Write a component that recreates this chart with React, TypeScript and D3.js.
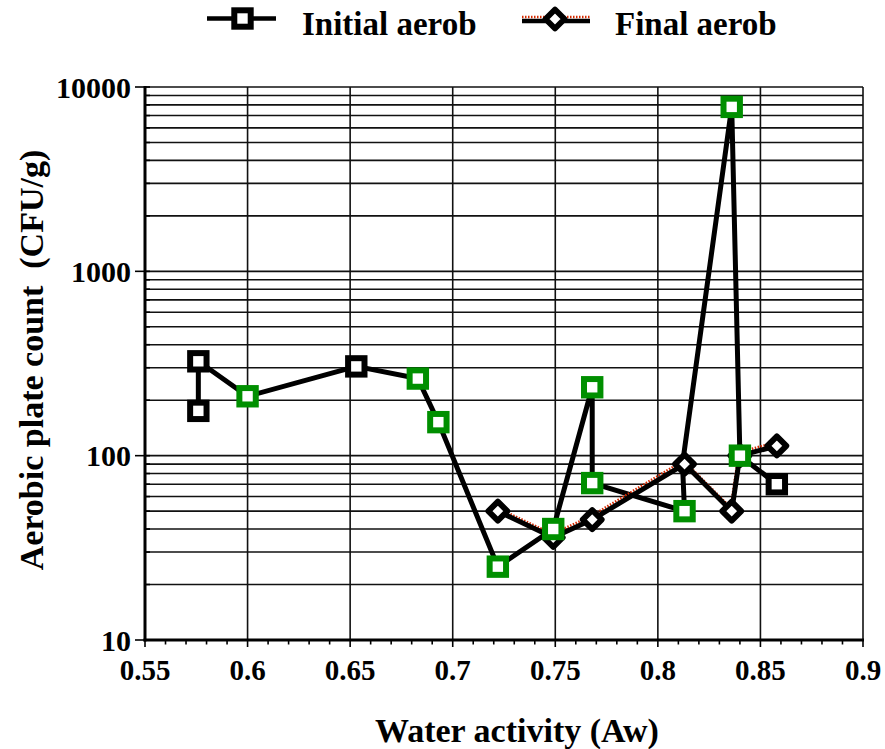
import React from "react";
import * as d3 from "d3";

// Water activity (Aw) readings and aerobic plate counts (CFU/g)
const initialAw = [0.576, 0.576, 0.6, 0.653, 0.683, 0.693, 0.722, 0.749, 0.768, 0.768, 0.813, 0.812, 0.836, 0.84, 0.858];
const initialCount = [175, 325, 210, 305, 262, 152, 25, 40, 235, 71, 50, 90, 7800, 100, 70];
// samples drawn with the green marker
const initialGreen = [2, 4, 5, 6, 7, 8, 9, 10, 12, 13];
// sample whose marker sits beneath a final-count marker
const initialNoMarker = [11];

const finalAw = [0.722, 0.749, 0.768, 0.813, 0.836, 0.84, 0.858];
const finalCount = [50, 36, 45, 90, 50, 100, 113];

const xTicks = [0.55, 0.6, 0.65, 0.7, 0.75, 0.8, 0.85, 0.9];
const xTickLabels = ["0.55", "0.6", "0.65", "0.7", "0.75", "0.8", "0.85", "0.9"];
const yTicks = [10, 100, 1000, 10000];
const yTickLabels = ["10", "100", "1000", "10000"];

const W = 885;
const H = 749;
const left = 145;
const right = 863;
const top = 87;
const bottom = 640;
const FONT = "'Liberation Serif', 'Times New Roman', Times, serif";
const GREEN = "#008f00";

export default function App() {
  const x = d3.scaleLinear().domain([0.55, 0.9]).range([left, right]);
  const y = d3.scaleLog().domain([10, 10000]).range([bottom, top]);

  // grid: every 1..9 multiple of each decade
  const yGrid: number[] = [];
  for (let d = 10; d < 10000; d *= 10) {
    for (let k = 2; k <= 10; k++) yGrid.push(d * k);
  }
  const xMinor = d3.range(0, 36).map((i) => 0.55 + i * 0.01);

  const line = d3
    .line<[number, number]>()
    .x((d) => x(d[0]))
    .y((d) => y(d[1]));

  const initialPts: [number, number][] = initialAw.map((a, i) => [a, initialCount[i]]);
  const finalPts: [number, number][] = finalAw.map((a, i) => [a, finalCount[i]]);

  const square = (cx: number, cy: number, color: string, key: string | number) => (
    <rect key={key} x={cx - 8.2} y={cy - 8.2} width={16.4} height={16.4} fill="#fff" stroke={color} strokeWidth={6} />
  );
  const diamond = (cx: number, cy: number, key: string | number) => (
    <path
      key={key}
      d={`M${cx},${cy - 9.5}L${cx + 9.5},${cy}L${cx},${cy + 9.5}L${cx - 9.5},${cy}Z`}
      fill="#fff"
      stroke="#000"
      strokeWidth={5.8}
      strokeLinejoin="round"
    />
  );

  return (
    <svg width={W} height={H} style={{ position: "absolute", left: 0, top: 0, background: "#fff" }} fontFamily={FONT}>
      <rect x={0} y={0} width={W} height={H} fill="#fff" />

      {/* horizontal grid */}
      {yGrid.map((v) => (
        <line key={"hg" + v} x1={left} x2={right} y1={y(v)} y2={y(v)} stroke="#111" strokeWidth={1.6} />
      ))}
      {/* vertical grid */}
      {xTicks.slice(1).map((v) => (
        <line key={"vg" + v} x1={x(v)} x2={x(v)} y1={top} y2={bottom} stroke="#111" strokeWidth={1.6} />
      ))}

      {/* axes */}
      <line x1={left} x2={left} y1={top - 1} y2={bottom + 1.5} stroke="#000" strokeWidth={3} />
      <line x1={left - 1.5} x2={right + 1} y1={bottom} y2={bottom} stroke="#000" strokeWidth={3} />

      {/* y ticks */}
      {yTicks.map((v, i) => (
        <g key={"yt" + v}>
          <line x1={left - 10} x2={left} y1={y(v)} y2={y(v)} stroke="#000" strokeWidth={1.6} />
          <text x={131} y={y(v)} dy="0.35em" textAnchor="end" fontSize={30} fontWeight="bold">
            {yTickLabels[i]}
          </text>
        </g>
      ))}
      {yGrid.map((v) => (
        <line key={"ymt" + v} x1={left} x2={left + 5} y1={y(v)} y2={y(v)} stroke="#000" strokeWidth={1.6} />
      ))}

      {/* x ticks */}
      {xMinor.map((v, i) => (
        <line
          key={"xmt" + i}
          x1={x(v)}
          x2={x(v)}
          y1={bottom}
          y2={bottom + (i % 5 === 0 ? 7 : 4.5)}
          stroke="#000"
          strokeWidth={1.6}
        />
      ))}
      {xTicks.map((v, i) => (
        <text key={"xt" + v} x={x(v)} y={680} textAnchor="middle" fontSize={29} fontWeight="bold">
          {xTickLabels[i]}
        </text>
      ))}

      {/* series lines */}
      <path d={line(initialPts) || ""} fill="none" stroke="#000" strokeWidth={5} strokeLinejoin="round" />
      <path
        d={line(finalPts) || ""}
        fill="none"
        stroke="#d42a00"
        strokeWidth={2.5}
        strokeDasharray="1.5 1.5"
        transform="translate(-1,-3.5)"
      />
      <path d={line(finalPts) || ""} fill="none" stroke="#000" strokeWidth={5} strokeLinejoin="round" />

      {/* markers */}
      {finalPts.map((p, i) => diamond(x(p[0]), y(p[1]), "fd" + i))}
      {initialPts.map((p, i) =>
        initialNoMarker.includes(i)
          ? null
          : square(x(p[0]), y(p[1]), initialGreen.includes(i) ? GREEN : "#000", "is" + i)
      )}

      {/* legend */}
      <line x1={207} x2={276} y1={18.5} y2={18.5} stroke="#000" strokeWidth={4.5} />
      {square(242.5, 18.5, "#000", "lg1")}
      <text x={302} y={35} fontSize={33} fontWeight="bold">
        Initial aerob
      </text>
      <line x1={522} x2={590} y1={17} y2={17} stroke="#d42a00" strokeWidth={2.5} strokeDasharray="1.5 1.5" />
      <line x1={522} x2={590} y1={21} y2={21} stroke="#000" strokeWidth={4.5} />
      {diamond(555, 19, "lg2")}
      <text x={615} y={35} fontSize={33} fontWeight="bold">
        Final aerob
      </text>

      {/* axis titles */}
      <text x={517} y={742} textAnchor="middle" fontSize={34} fontWeight="bold">
        Water activity (Aw)
      </text>
      <text
        transform={`translate(43,${360}) rotate(-90)`}
        textAnchor="middle"
        fontSize={34}
        fontWeight="bold"
        style={{ whiteSpace: "pre" }}
      >
        {"Aerobic plate count  (CFU/g)"}
      </text>
    </svg>
  );
}
